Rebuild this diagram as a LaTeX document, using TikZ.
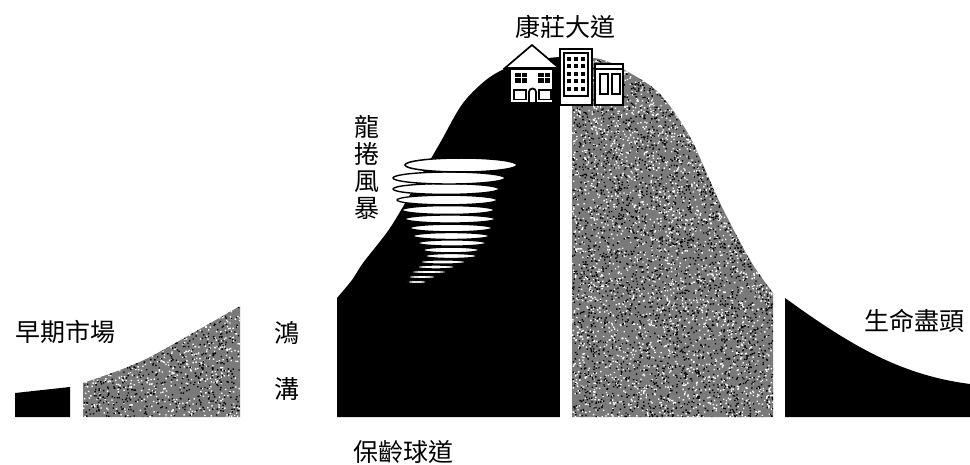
\documentclass[tikz,border=0pt]{standalone}
\usepackage{fontspec}
\newfontfamily\cjk{Noto Sans CJK TC}
\begin{document}
\begin{tikzpicture}[x=1pt,y=-1pt,
  lbl/.style={font=\cjk\fontsize{25}{27}\selectfont, inner sep=0pt, anchor=center},
  stipple/.style={fill=black!52},
  mass/.style={fill=black},
  wall/.style={draw=black, line width=1.7pt, fill=white, line join=miter},
  pane/.style={fill=black},
  swirl/.style={draw=black, line width=1.3pt, fill=white}]
\useasboundingbox (0,0) rectangle (970,465);

% ---- early market: small block and rising stippled wedge
\fill[mass] (15,393) -- (70,387) -- (70,417) -- (15,417) -- cycle;
\begin{scope}
  \clip (83,417) -- plot[smooth] coordinates {(83,383) (120,370) (150,357) (200,329) (240,306)} -- (240,417) -- cycle;
  \fill[stipple] (80,300) rectangle (245,420);
  \pgfmathsetseed{11}
  \fill[white] \foreach \i in {1,...,800}{ ({83+157*rnd},{300+118*rnd}) rectangle ++(1.4,1.4) };
  \fill[black] \foreach \i in {1,...,800}{ ({83+157*rnd},{300+118*rnd}) rectangle ++(1.4,1.4) };
\end{scope}

% ---- the main hill: black bowling lane on the left, stippled on the right
\begin{scope}
  \clip (337,417) -- plot[smooth] coordinates {(337,298) (352,280) (363,263) (390,228) (415,186) (440,143) (463,103) (490,77) (520,63) (560,57) (600,59) (630,73) (660,94) (690,137) (720,203) (750,260) (773,293)} -- (773,417) -- cycle;
  \fill[mass] (330,40) rectangle (560,420);
  \fill[stipple] (572,40) rectangle (780,420);
  \begin{scope}
    \clip (572,40) rectangle (780,420);
    \pgfmathsetseed{5}
    \fill[white] \foreach \i in {1,...,3600}{ ({572+201*rnd},{55+362*rnd}) rectangle ++(1.4,1.4) };
    \fill[black] \foreach \i in {1,...,3600}{ ({572+201*rnd},{55+362*rnd}) rectangle ++(1.4,1.4) };
  \end{scope}
\end{scope}

% ---- end of life: falling black tail
\fill[mass] (785,417) -- (785,298) .. controls (850,345) and (900,375) .. (970,384) -- (970,417) -- cycle;

% ---- tornado: stacked rings, drawn bottom to top
\foreach \cx/\cy/\rx/\ry/\w in {
  417/282/10/1.4/0.9, 422/277/14/1.5/0.9, 429/272/18/1.6/1.0, 436/267/19/1.8/1.0,
  443/262/23/2.0/1.1, 451/256/26/2.4/1.1, 451/250/28/2.8/1.2, 452/243/34/3.0/1.2,
  451/236/38/3.4/1.2, 451/228/41/3.8/1.3, 450/219/45/4.0/1.3, 448/210/46/4.4/1.3,
  447/200/50/4.8/1.3, 446/189/53/5.4/1.4, 449/178/56/6.0/1.4, 461/165/56/7.0/1.5}
  \draw[swirl, line width=\w pt] (\cx,\cy) ellipse [x radius=\rx, y radius=\ry];

% ---- buildings on the summit
% house
\draw[wall] (505,68) -- (532,45) -- (559,68) -- cycle;
\draw[wall] (510,69) rectangle (553,103);
\draw[line width=2.2pt] (507,69) -- (556,69);
\foreach \wx in {515,538} {
  \fill[pane] (\wx,73) rectangle ++(5.5,4.5);
  \fill[pane] (\wx+6.5,73) rectangle ++(5.5,4.5);
  \fill[pane] (\wx,78.5) rectangle ++(5.5,4.5);
  \fill[pane] (\wx+6.5,78.5) rectangle ++(5.5,4.5);
}
\draw[line width=1.8pt] (514,90) rectangle (526,99.5);
\draw[line width=1.8pt] (539,90) rectangle (551,99.5);
\draw[line width=1.8pt] (529,103) -- (529,92) arc[start angle=180, end angle=0, x radius=3.5, y radius=-3.5] -- (536,103);
% tower block
\draw[wall] (560,49) rectangle (592,105);
\draw[line width=1.2pt] (564,53) rectangle (588,96);
\foreach \r in {0,...,4} \foreach \c in {0,...,2}
  \fill[pane] ({567+7*\c},{57+7.5*\r}) rectangle ++(4,4);
% low shop
\draw[wall] (595,64) rectangle (623,105);
\draw[line width=1.6pt] (595,69) -- (623,69);
\draw[line width=1.5pt] (600,74) rectangle (608,94);
\draw[line width=1.5pt] (612,74) rectangle (620,94);

% ---- labels
\node[lbl] (road)    at (565,27)  {康莊大道};
\node[lbl, align=center] (storm) at (367,167) {龍\\捲\\風\\暴};
\node[lbl] (gapa)    at (287,333) {鴻};
\node[lbl] (gapb)    at (287,389) {溝};
\node[lbl] (early)   at (66,332)  {早期市場};
\node[lbl] (end)     at (914,321) {生命盡頭};
\node[lbl] (bowling) at (403,452) {保齡球道};
\end{tikzpicture}
\end{document}
